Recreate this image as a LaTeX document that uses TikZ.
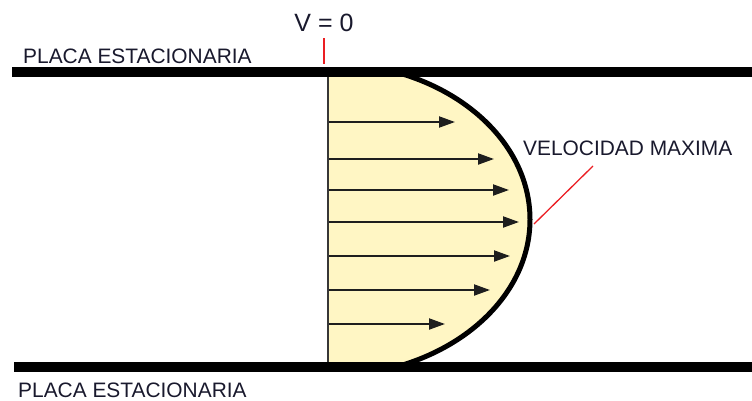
\documentclass[tikz,border=0pt]{standalone}
\usepackage{fontspec}
\setmainfont{Liberation Sans}
\usetikzlibrary{arrows.meta}
\definecolor{fluid}{RGB}{255,246,196}
\definecolor{leader}{RGB}{235,30,35}
\definecolor{ink}{RGB}{30,30,30}
\definecolor{txt}{RGB}{25,25,45}
\tikzset{
  plate/.style={line width=10pt, black},
  lbl/.style={inner sep=0pt, text=txt, font=\fontsize{20.9}{24}\selectfont},
  vel/.style={line width=2pt, draw=ink, -{Triangle[length=16pt,width=11pt]}},
  redline/.style={leader, line width=1.3pt},
  profile/.style={line width=5pt, black},
  wall/.style={line width=2pt, draw={rgb,255:red,55;green,55;blue,55}},
}
\begin{document}
\begin{tikzpicture}[x=1pt,y=-1pt]
\useasboundingbox (0,0) rectangle (752,400);
% fluid region
\begin{scope}
  \clip (328,72) rectangle (620,367);
  \fill[fluid] (328,63) arc[start angle=-90,end angle=90,x radius=202,y radius=156.5] -- cycle;
  \draw[profile] (328,63) arc[start angle=-90,end angle=90,x radius=202,y radius=156.5];
\end{scope}
% velocity arrows
\foreach \yy/\tip [count=\i] in {122/455,159/494,190/509,222/519,256/510,290/490,324/445}{
  \coordinate (t\i) at (329,\yy);
  \coordinate (h\i) at (\tip,\yy);
  \draw[vel] (t\i) -- (h\i);
}
% wall line
\coordinate (wtop) at (328,72);
\coordinate (wbot) at (328,367);
\draw[wall] (wtop) -- (wbot);
% plates
\coordinate (p1a) at (12,72);
\coordinate (p1b) at (752,72);
\coordinate (p2a) at (14,367);
\coordinate (p2b) at (752,367);
\draw[plate] (p1a) -- (p1b);
\draw[plate] (p2a) -- (p2b);
% labels
\node[lbl, anchor=base west] (topplate) at (23,63) {PLACA ESTACIONARIA};
\node[lbl, anchor=base west] (botplate) at (18,397) {PLACA ESTACIONARIA};
\node[lbl, anchor=base, font=\fontsize{25}{30}\selectfont] (vzero) at (324,31) {V = 0};
\node[lbl, anchor=base west] (vmax) at (523,155) {VELOCIDAD MAXIMA};
% red markers
\coordinate (r1) at (324,38);
\coordinate (r2) at (324,64);
\draw[redline] (r1) -- (r2);
\coordinate (m1) at (593,166);
\coordinate (m2) at (534,224);
\draw[redline] (m1) -- (m2);
\end{tikzpicture}
\end{document}
